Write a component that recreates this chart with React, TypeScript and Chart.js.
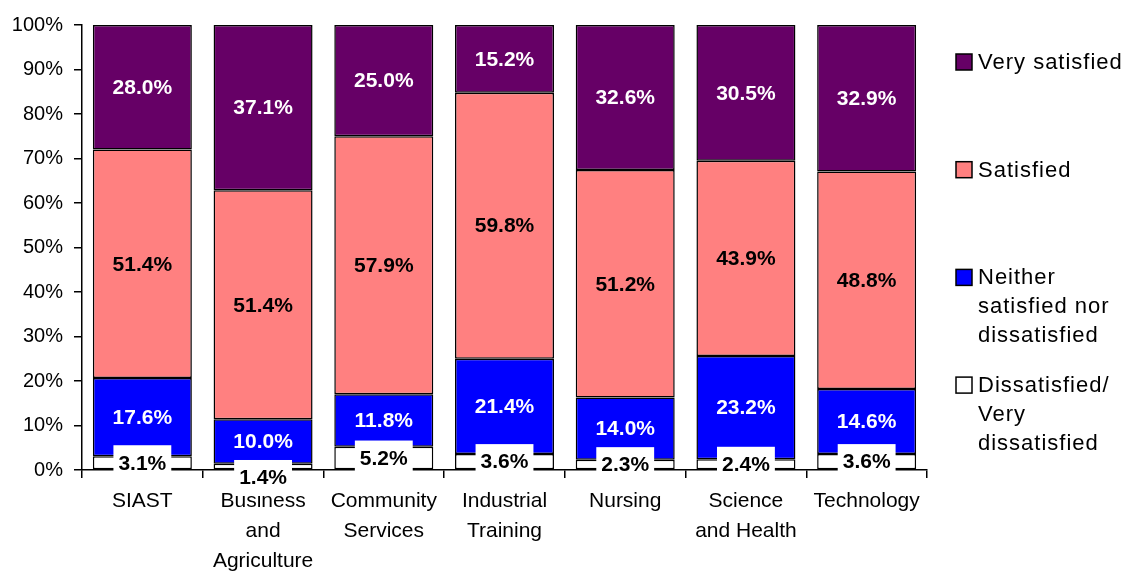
import React, { useEffect, useRef } from "react";
import { Chart, registerables } from "chart.js";

Chart.register(...registerables);

const CATEGORIES: (string | string[])[] = [
  "SIAST",
  ["Business", "and", "Agriculture"],
  ["Community", "Services"],
  ["Industrial", "Training"],
  "Nursing",
  ["Science", "and Health"],
  "Technology",
];

const DISSATISFIED = [3.1, 1.4, 5.2, 3.6, 2.3, 2.4, 3.6];
const NEITHER = [17.6, 10.0, 11.8, 21.4, 14.0, 23.2, 14.6];
const SATISFIED = [51.4, 51.4, 57.9, 59.8, 51.2, 43.9, 48.8];
const VERY_SATISFIED = [28.0, 37.1, 25.0, 15.2, 32.6, 30.5, 32.9];

const Y_TICKS = [0, 10, 20, 30, 40, 50, 60, 70, 80, 90, 100];

const LEGEND_LINES: string[][] = [
  ["Very satisfied"],
  ["Satisfied"],
  ["Neither", "satisfied nor", "dissatisfied"],
  ["Dissatisfied/", "Very", "dissatisfied"],
];

const FONT = "'Liberation Sans', Arial, Helvetica, sans-serif";

export default function App() {
  const ref = useRef<HTMLCanvasElement | null>(null);

  useEffect(() => {
    if (!ref.current) return;
    const raw = [DISSATISFIED, NEITHER, SATISFIED, VERY_SATISFIED];
    const totals = CATEGORIES.map((_, i) => raw.reduce((s, a) => s + a[i], 0));
    const norm = (arr: number[]) => arr.map((v, i) => (v / totals[i]) * 100);
    const colors = ["#FFFFFF", "#0000FF", "#FF8080", "#660066"];
    const textColors = ["#000000", "#FFFFFF", "#000000", "#FFFFFF"];
    const names = [
      LEGEND_LINES[3].join(" "),
      LEGEND_LINES[2].join(" "),
      LEGEND_LINES[1].join(" "),
      LEGEND_LINES[0].join(" "),
    ];

    const labelPlugin = {
      id: "segLabels",
      afterDraw(chart: any) {
        const ctx = chart.ctx;
        ctx.save();
        ctx.font = `bold 21px ${FONT}`;
        ctx.textAlign = "center";
        ctx.textBaseline = "middle";
        const boxH = 36;
        CATEGORIES.forEach((_, i) => {
          const ys: number[] = [];
          for (let d = 0; d < raw.length; d++) {
            const el = chart.getDatasetMeta(d).data[i];
            ys.push((el.y + el.base) / 2);
          }
          // keep the bottom label clear of the label above it
          ys[0] = Math.max(ys[0], ys[1] + boxH);
          for (let d = 0; d < raw.length; d++) {
            const el = chart.getDatasetMeta(d).data[i];
            const txt = raw[d][i].toFixed(1) + "%";
            const y = ys[d] + 1;
            if (d === 0) {
              const w = ctx.measureText(txt).width + 10;
              ctx.fillStyle = "#FFFFFF";
              ctx.fillRect(el.x - w / 2, ys[d] - boxH / 2 + 0.5, w, boxH - 2);
            }
            ctx.fillStyle = textColors[d];
            ctx.fillText(txt, el.x, y);
          }
        });
        ctx.restore();
      },
    };

    const legendPlugin = {
      id: "sideLegend",
      afterDraw(chart: any) {
        const ctx = chart.ctx;
        const area = chart.chartArea;
        ctx.save();
        ctx.font = `22px ${FONT}`;
        (ctx as any).letterSpacing = "1px";
        ctx.textAlign = "left";
        ctx.textBaseline = "middle";
        const x0 = area.right + 29;
        const top = area.top + 37;
        const step = 107.7;
        const lineH = 29;
        const legendColors = [colors[3], colors[2], colors[1], colors[0]];
        LEGEND_LINES.forEach((lines, k) => {
          const yc = top + k * step;
          ctx.fillStyle = legendColors[k];
          ctx.fillRect(x0, yc - 8, 16, 16);
          ctx.lineWidth = 1.5;
          ctx.strokeStyle = "#000000";
          ctx.strokeRect(x0, yc - 8, 16, 16);
          ctx.fillStyle = "#000000";
          lines.forEach((ln, j) => {
            ctx.fillText(ln, x0 + 22, yc + 1 + j * lineH);
          });
        });
        ctx.restore();
      },
    };

    const chart = new Chart(ref.current, {
      type: "bar",
      data: {
        labels: CATEGORIES as any,
        datasets: raw.map((arr, d) => ({
          label: names[d],
          data: norm(arr),
          backgroundColor: colors[d],
          borderColor: "#000000",
          borderWidth: 1.5,
          borderSkipped: false,
          categoryPercentage: 1,
          barPercentage: 0.82,
        })),
      },
      options: {
        responsive: false,
        animation: false,
        devicePixelRatio: 1,
        layout: { padding: { top: 25, right: 198, left: 0, bottom: 0 } },
        plugins: {
          legend: { display: false },
          tooltip: { enabled: false },
        },
        scales: {
          x: {
            stacked: true,
            offset: true,
            afterFit(scale: any) {
              scale.height = 103;
            },
            border: { display: true, color: "#000000", width: 1.5 },
            grid: {
              offset: true,
              drawOnChartArea: false,
              drawTicks: true,
              tickLength: 8,
              color: "#000000",
              lineWidth: 1.5,
            },
            ticks: {
              color: "#000000",
              padding: 8,
              maxRotation: 0,
              autoSkip: false,
              font: { family: FONT, size: 21, lineHeight: 1.43 },
            },
          },
          y: {
            stacked: true,
            min: 0,
            max: 100,
            afterFit(scale: any) {
              scale.width = 82;
            },
            afterBuildTicks(scale: any) {
              scale.ticks = Y_TICKS.map((v) => ({ value: v }));
            },
            border: { display: true, color: "#000000", width: 1.5 },
            grid: {
              drawOnChartArea: false,
              drawTicks: true,
              tickLength: 8,
              color: "#000000",
              lineWidth: 1.5,
            },
            ticks: {
              color: "#000000",
              padding: 11,
              font: { family: FONT, size: 20 },
              callback: (v: any) => `${v}%`,
            },
          },
        },
      },
      plugins: [labelPlugin, legendPlugin],
    });
    return () => chart.destroy();
  }, []);

  return (
    <div style={{ position: "absolute", left: 0, top: 0, width: 1125, height: 573, background: "#fff" }}>
      <canvas ref={ref} width={1125} height={573} style={{ display: "block" }} />
    </div>
  );
}
